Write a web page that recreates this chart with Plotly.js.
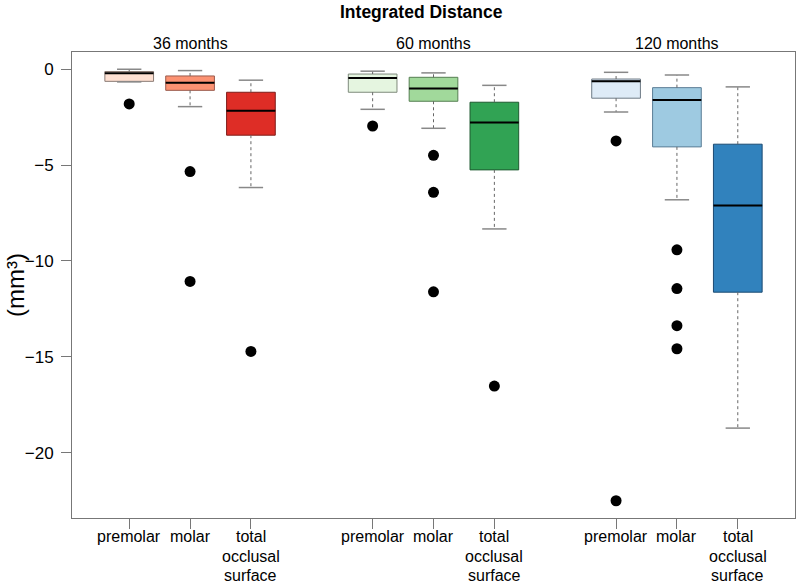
<!DOCTYPE html>
<html>
<head>
<meta charset="utf-8">
<script src="https://cdn.plot.ly/plotly-3.0.1.min.js"></script>
<style>
  html, body { margin: 0; padding: 0; background: #fff; }
  #chart { width: 796px; height: 584px; }
</style>
</head>
<body>
<div id="chart"></div>
<script>
// ---------- data ----------
const groups = ["36 months", "60 months", "120 months"];
const teeth = ["premolar", "molar", "total occlusal surface"];

// order: 36 (premolar, molar, total), 60 (...), 120 (...)
const upperWhisker = [0.00, -0.07, -0.57,  -0.10, -0.19, -0.84,  -0.16, -0.30, -0.92];
const q3           = [-0.12, -0.35, -1.20,  -0.25, -0.42, -1.72,  -0.51, -0.96, -3.91];
const median       = [-0.21, -0.70, -2.16,  -0.45, -1.01, -2.78,  -0.62, -1.60, -7.11];
const q1           = [-0.63, -1.10, -3.44,  -1.20, -1.67, -5.25,  -1.51, -4.05, -11.63];
const lowerWhisker = [-0.66, -1.95, -6.17,  -2.09, -3.08, -8.33,  -2.23, -6.81, -18.72];
const outliers = [
  [-1.81], [-5.34, -11.07], [-14.72],
  [-2.96], [-4.49, -6.42, -11.61], [-16.53],
  [-3.74, -22.51], [-9.42, -11.44, -13.38, -14.58], []
];
const yTicks = [0, -5, -10, -15, -20];

// ---------- styles ----------
const fills   = ["#fee0d2", "#fc9272", "#de2d26", "#e5f5e0", "#a1d99b", "#31a354", "#deebf7", "#9ecae1", "#3182bd"];
const borders = ["#8a7a74", "#9a5a4c", "#7e1d1a", "#7f8a7c", "#567f52", "#1e5a30", "#6e7a86", "#5b7d96", "#1c4a72"];
const FONT = "Liberation Sans, Arial, Helvetica, sans-serif";
const BOXW = 0.8, CAPW = 0.4;
const PLOT_TOP = 52, PLOT_H = 466.3;            // px, used to place text in paper units
const toPaperY = px => (PLOT_TOP + PLOT_H - px) / PLOT_H;

// positions: groups separated by one empty slot
const pos = [];
groups.forEach((g, gi) => teeth.forEach((t, ti) => pos.push(gi * 4 + ti + 1)));

const traces = [];
// boxes (drawn without whiskers; whiskers are R-style dotted lines added below)
pos.forEach((p, i) => {
  traces.push({
    type: "box", orientation: "v",
    x: [p], q1: [q1[i]], median: [median[i]], q3: [q3[i]],
    lowerfence: [q1[i]], upperfence: [q3[i]],
    width: BOXW, whiskerwidth: 0, boxpoints: false,
    fillcolor: fills[i], line: { color: borders[i], width: 1 },
    showlegend: false, hoverinfo: "skip"
  });
});

// whiskers (dotted)
const wx = [], wy = [];
pos.forEach((p, i) => {
  wx.push(p, p, null, p, p, null);
  wy.push(q3[i], upperWhisker[i], null, q1[i], lowerWhisker[i], null);
});
traces.push({ type: "scatter", mode: "lines", x: wx, y: wy,
  line: { color: "#666", width: 1, dash: "dot" }, showlegend: false, hoverinfo: "skip" });

// staples (caps)
const cx = [], cy = [];
pos.forEach((p, i) => {
  cx.push(p - CAPW / 2, p + CAPW / 2, null, p - CAPW / 2, p + CAPW / 2, null);
  cy.push(upperWhisker[i], upperWhisker[i], null, lowerWhisker[i], lowerWhisker[i], null);
});
traces.push({ type: "scatter", mode: "lines", x: cx, y: cy,
  line: { color: "#888", width: 1.5 }, showlegend: false, hoverinfo: "skip" });

// medians
const mx = [], my = [];
pos.forEach((p, i) => {
  mx.push(p - BOXW / 2, p + BOXW / 2, null);
  my.push(median[i], median[i], null);
});
traces.push({ type: "scatter", mode: "lines", x: mx, y: my,
  line: { color: "#000", width: 2 }, showlegend: false, hoverinfo: "skip" });

// outliers
const ox = [], oy = [];
pos.forEach((p, i) => outliers[i].forEach(v => { ox.push(p); oy.push(v); }));
traces.push({ type: "scatter", mode: "markers", x: ox, y: oy,
  marker: { color: "#000", size: 11 }, showlegend: false, hoverinfo: "skip" });

// ---------- layout ----------
const annotations = groups.map((g, gi) => ({
  text: g, xref: "x", yref: "paper", x: gi * 4 + 2, y: toPaperY(43),
  xanchor: "center", yanchor: "middle", showarrow: false,
  font: { family: FONT, size: 16, color: "#000" }
}));
// x tick labels, one text per line (R-style tight line spacing)
pos.forEach((p, i) => {
  teeth[i % 3].split(" ").forEach((line, li) => {
    annotations.push({
      text: line, xref: "x", yref: "paper", x: p, y: toPaperY(537 + li * 19.5),
      xanchor: "center", yanchor: "middle", showarrow: false,
      font: { family: FONT, size: 16, color: "#000" }
    });
  });
});
annotations.push({
  text: "<b>Integrated Distance</b>", xref: "paper", yref: "paper", x: 0.484, y: toPaperY(12),
  xanchor: "center", yanchor: "middle", showarrow: false,
  font: { family: FONT, size: 17.5, color: "#000" }
});
annotations.push({
  text: "(mm³)", xref: "paper", yref: "paper", x: -0.079, y: 0.5, textangle: -90,
  xanchor: "center", yanchor: "middle", showarrow: false,
  font: { family: FONT, size: 24, color: "#000" }
});

const layout = {
  width: 796, height: 584,
  margin: { l: 72, r: 1, t: 52, b: 66 },
  paper_bgcolor: "#fff", plot_bgcolor: "#fff",
  hovermode: false, showlegend: false,
  font: { family: FONT, size: 16, color: "#000" },
  xaxis: {
    range: [0.06, 11.94], tickmode: "array", tickvals: pos, showticklabels: false,
    ticks: "outside", ticklen: 10, tickcolor: "#777", tickwidth: 1,
    showline: true, linecolor: "#777", linewidth: 1, mirror: true,
    showgrid: false, zeroline: false
  },
  yaxis: {
    range: [-23.41, 0.9], tickmode: "array", tickvals: yTicks,
    ticks: "outside", ticklen: 10, tickcolor: "#777", tickwidth: 1,
    ticklabelstandoff: 4,
    showline: true, linecolor: "#777", linewidth: 1, mirror: true,
    showgrid: false, zeroline: false,
    tickfont: { family: FONT, size: 17, color: "#000" }
  },
  annotations: annotations
};

Plotly.newPlot("chart", traces, layout, { displayModeBar: false, staticPlot: true });
</script>
</body>
</html>
